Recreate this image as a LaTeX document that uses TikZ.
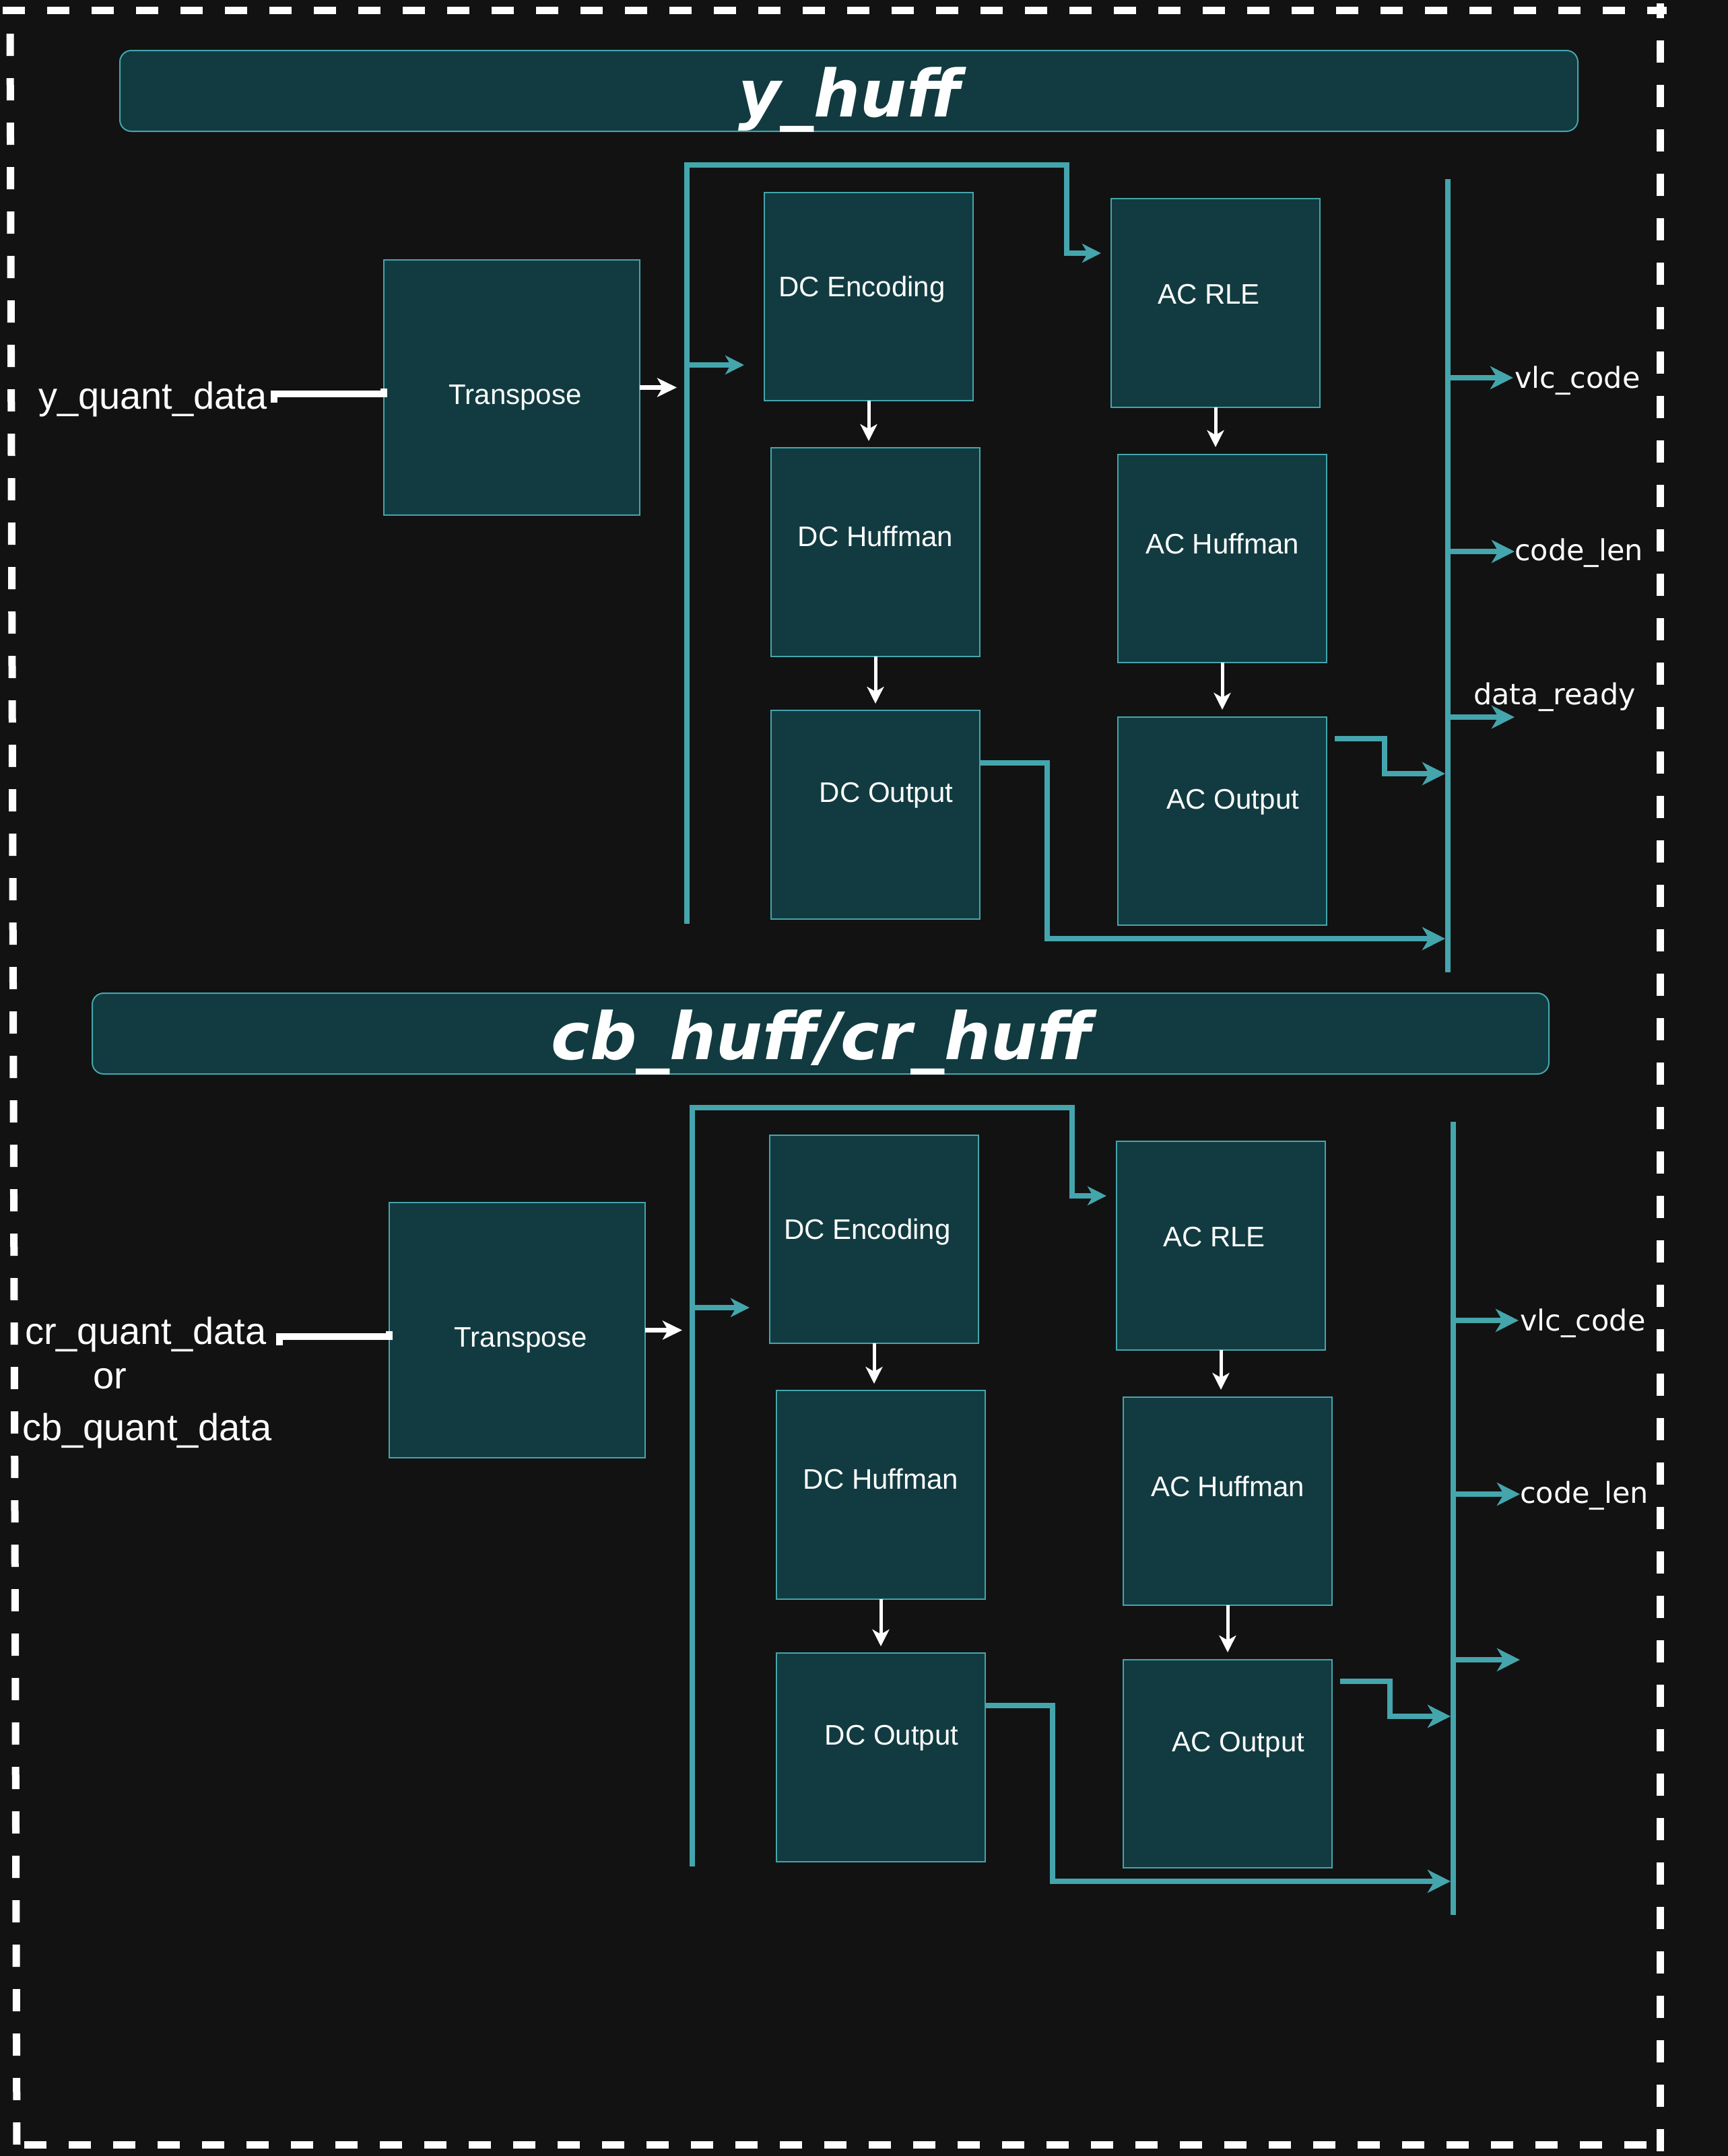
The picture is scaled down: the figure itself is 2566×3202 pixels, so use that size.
\documentclass[tikz,border=0pt]{standalone}
\usepackage{fontspec}
\setmainfont{Liberation Sans}
\newfontfamily\djv{DejaVu Sans}
\newfontfamily\ttlfont{DejaVu Sans Bold Oblique}
\usetikzlibrary{arrows.meta,calc}
\definecolor{bgc}{HTML}{121212}
\definecolor{boxc}{HTML}{113B40}
\definecolor{tealc}{HTML}{45A5AD}
\tikzset{
  box/.style={draw=tealc, line width=2pt, fill=boxc, inner sep=0pt, outer sep=0pt},
  titlebox/.style={box, rounded corners=17pt},
  boxtxt/.style={text=white, font=\fontsize{42}{50}\selectfont, anchor=base, inner sep=0pt},
  ttltxt/.style={text=white, font=\ttlfont\fontsize{97}{110}\selectfont, anchor=base, inner sep=0pt},
  outlbl/.style={text=white, font=\djv\fontsize{43}{50}\selectfont, anchor=base west, inner sep=0pt},
  inlbl/.style={text=white, font=\fontsize{56}{66}\selectfont, anchor=base west, inner sep=0pt},
  tline/.style={draw=tealc, line width=8pt},
  tarrow/.style={tline, -{Stealth[length=28pt,width=28pt,inset=8pt]}},
  tbigarrow/.style={tline, -{Stealth[length=34pt,width=34pt,inset=10pt]}},
  warrow/.style={draw=white, line width=5pt, -{Stealth[length=25pt,width=25pt,inset=7pt]}},
  wharrow/.style={draw=white, line width=7pt, -{Stealth[length=29pt,width=28pt,inset=8pt]}},
  inwire/.style={draw=white, line width=10pt, miter limit=10},
  border/.style={draw=white, line width=11pt, dash pattern=on 33pt off 33pt}
}
\newcommand\halfblock{%
  % boxes
  \node[box, minimum width=380pt, minimum height=379pt] (tr) at (760,575.5) {};
  \node[boxtxt] (trt) at (765,600) {Transpose};
  \node[box, minimum width=310pt, minimum height=309pt] (dce) at (1290,440.5) {};
  \node[boxtxt] (dcet) at (1280,440) {DC Encoding};
  \node[box, minimum width=310pt, minimum height=310pt] (dch) at (1300,820) {};
  \node[boxtxt] (dcht) at (1300,811) {DC Huffman};
  \node[box, minimum width=310pt, minimum height=310pt] (dco) at (1300,1210) {};
  \node[boxtxt] (dcot) at (1316,1191) {DC Output};
  \node[box, minimum width=310pt, minimum height=310pt] (acr) at (1805,450) {};
  \node[boxtxt] (acrt) at (1795,451) {AC RLE};
  \node[box, minimum width=310pt, minimum height=309pt] (ach) at (1815,829.5) {};
  \node[boxtxt] (acht) at (1815,822) {AC Huffman};
  \node[box, minimum width=310pt, minimum height=309pt] (aco) at (1815,1219.5) {};
  \node[boxtxt] (acot) at (1831,1201) {AC Output};
  % input wire
  \coordinate (inS) at (407,598);
  \draw[inwire] (inS) |- ($(tr.west)+(0,9.5)$) -- ($(tr.west)+(0,1.5)$);
  % left bus
  \coordinate (lbTop) at (1020,245);
  \coordinate (lbBot) at (1020,1372);
  \coordinate (acrIn) at (1635,376);
  \coordinate (dceIn) at (1105,542);
  \draw[wharrow] (tr.east) -- ($(tr.east -| lbTop)+(-15,0)$);
  \draw[tarrow] (lbBot) -- (lbTop) -| ($(acrIn)+(-51,0)$) -- (acrIn);
  \draw[tarrow] (lbTop |- dceIn) -- (dceIn);
  % white vertical arrows
  \draw[warrow, shorten >=10pt] (dce.south) -- (dce.south |- dch.north);
  \draw[warrow, shorten >=10pt] (dch.south) -- (dco.north);
  \draw[warrow, shorten >=11pt] (acr.south) -- (acr.south |- ach.north);
  \draw[warrow, shorten >=11pt] (ach.south) -- (aco.north);
  % right bus
  \coordinate (rbTop) at (2150,266);
  \coordinate (rbBot) at (2150,1444);
  \draw[tline] (rbTop) -- (rbBot);
  \coordinate (dcoOut) at (1455,1133);
  \coordinate (dcoIn) at (2146,1394);
  \draw[tbigarrow] (dcoOut) -- (1555,1133) |- (dcoIn);
  \coordinate (acoOut) at (1982,1097);
  \coordinate (acoIn) at (2146,1149);
  \draw[tbigarrow] (acoOut) -- (2056,1097) |- (acoIn);
  % outputs
  \coordinate (o1) at (2247,561);
  \coordinate (o2) at (2249,819);
  \coordinate (o3) at (2249,1065);
  \draw[tbigarrow] (rbTop |- o1) -- (o1);
  \draw[tbigarrow] (rbTop |- o2) -- (o2);
  \draw[tbigarrow] (rbTop |- o3) -- (o3);
  \node[outlbl] (vlc) at (2249,576) {vlc\_code};
  \node[outlbl] (clen) at (2249,832) {code\_len};
}
\begin{document}
\begin{tikzpicture}[x=1pt,y=-1pt]
\fill[bgc] (0,0) rectangle (2566,3202);
\useasboundingbox (0,0) rectangle (2566,3202);
% titles
\node[titlebox, minimum width=2165pt, minimum height=120pt] (t1) at (1260.5,135) {};
\node[ttltxt] (t1t) at (1262,173) {y\_huff};
\node[titlebox, minimum width=2163pt, minimum height=120pt] (t2) at (1218.5,1535) {};
\node[ttltxt] (t2t) at (1220,1573) {cb\_huff/cr\_huff};
% halves
\begin{scope}[name prefix=up-]
\halfblock
\node[outlbl] (dr) at (2188,1046) {data\_ready};
\end{scope}
\begin{scope}[shift={(8,1400)}, name prefix=lo-]
\halfblock
\end{scope}
% input labels
\node[inlbl] (yq) at (57,607) {y\_quant\_data};
\node[inlbl] (crq) at (37,1996) {cr\_quant\_data};
\node[inlbl] (orl) at (138,2062) {or};
\node[inlbl] (cbq) at (33,2139) {cb\_quant\_data};
% dashed frame
\draw[border] (4,15) -- (2475,15);
\draw[border, dash phase=11pt] (2465,5) -- (2465,3195);
\draw[border] (2445,3185) -- (30,3185);
\draw[border] (25,3185) -- (15,48);
\end{tikzpicture}
\end{document}
